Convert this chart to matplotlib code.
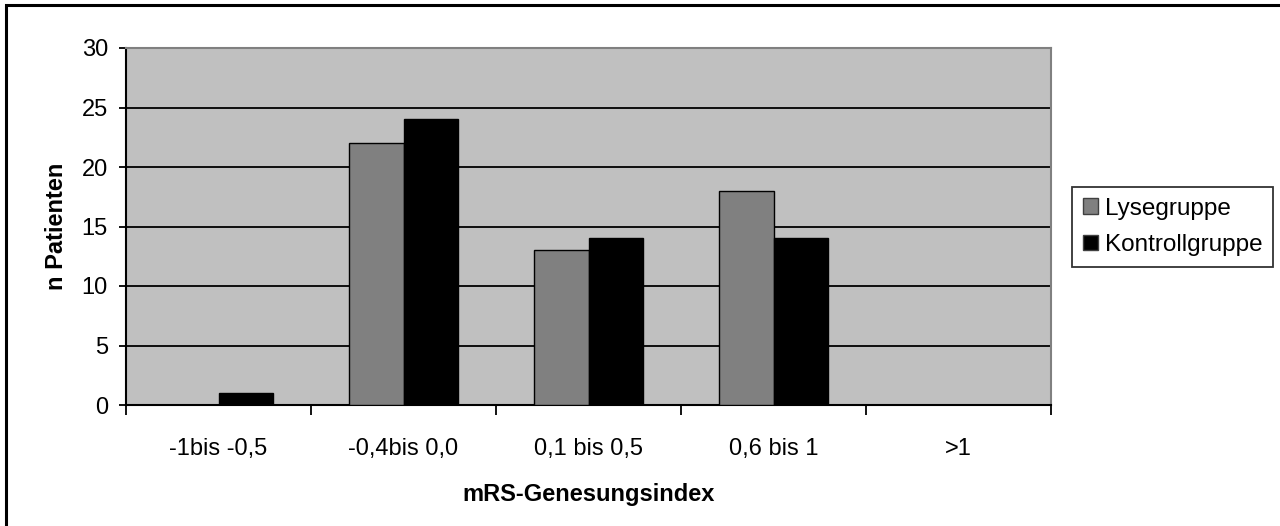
import numpy as np
import matplotlib
matplotlib.use("Agg")
import matplotlib.pyplot as plt
from matplotlib.patches import Rectangle

plt.rcParams['font.family'] = ['Liberation Sans', 'DejaVu Sans']

# Data
categories = ["-1bis -0,5", "-0,4bis 0,0", "0,1 bis 0,5", "0,6 bis 1", ">1"]
lyse = [0, 22, 13, 18, 0]
kontroll = [1, 24, 14, 14, 0]

fig = plt.figure(figsize=(12.8, 5.26), dpi=100)
ax = fig.add_axes([126 / 1280, 1 - 405 / 526, (1051 - 126) / 1280, (405 - 48) / 526])

# outer border like the Excel chart area
fig.patches.append(Rectangle((6 / 1280, -0.05), 1.2, 1 - 5 / 526 + 0.05,
                             transform=fig.transFigure, fill=False,
                             edgecolor='black', linewidth=2.2))

x = np.arange(len(categories))
w = 0.292
ax.set_facecolor('#C0C0C0')
ax.bar(x - w / 2, lyse, w, color='#808080', edgecolor='black', linewidth=1.0,
       label='Lysegruppe', zorder=3)
ax.bar(x + w / 2, kontroll, w, color='black', edgecolor='black', linewidth=1.0,
       label='Kontrollgruppe', zorder=3)

ax.set_xlim(-0.5, len(categories) - 0.5)
ax.set_ylim(0, 30)
ax.set_yticks(range(0, 31, 5))
ax.yaxis.grid(True, color='black', linewidth=1.3, zorder=1)
ax.set_axisbelow(True)

# ticks at category boundaries, labels in the middle
ax.set_xticks(np.arange(-0.5, len(categories), 1.0))
ax.set_xticklabels([])
ax.set_xticks(x, minor=True)
ax.set_xticklabels(categories, minor=True)
ax.tick_params(axis='x', which='major', length=7, width=1.3, direction='out')
ax.tick_params(axis='x', which='minor', length=0, pad=24, labelsize=17)
ax.tick_params(axis='y', length=5, width=1.3, direction='out', labelsize=17, pad=8)

for s in ['top', 'right']:
    ax.spines[s].set_color('#808080')
    ax.spines[s].set_linewidth(1.5)
for s in ['left', 'bottom']:
    ax.spines[s].set_color('black')
    ax.spines[s].set_linewidth(1.5)

ax.set_xlabel("mRS-Genesungsindex", fontsize=17, fontweight='bold', labelpad=16)
ax.set_ylabel("n Patienten", fontsize=17, fontweight='bold', labelpad=10)

leg = ax.legend(loc='center left', bbox_to_anchor=(1072 / 1280, 1 - 227 / 526),
                bbox_transform=fig.transFigure, fontsize=17.5, frameon=True,
                fancybox=False, edgecolor='black', handlelength=0.6,
                handleheight=0.6, handletextpad=0.3, borderpad=0.45,
                labelspacing=0.6, borderaxespad=0)
leg.get_frame().set_linewidth(1.3)
for h in leg.legend_handles:
    h.set_edgecolor('#404040')

fig.savefig("out.png", dpi=100, facecolor='white')
